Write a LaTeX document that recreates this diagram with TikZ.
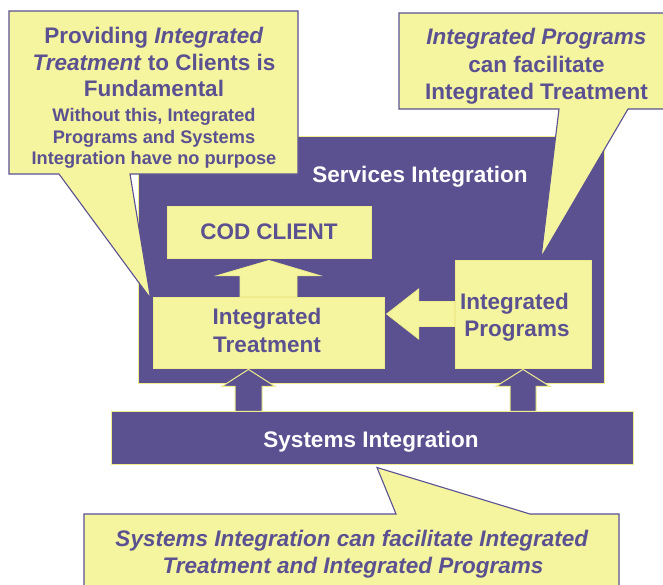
\documentclass[tikz,border=0pt]{standalone}
\usepackage{fontspec}
\setmainfont{Liberation Sans}
\usetikzlibrary{calc}
\definecolor{pur}{RGB}{91,81,145}
\definecolor{yel}{RGB}{245,245,160}
\definecolor{yeledge}{RGB}{238,236,140}
\tikzset{
  big/.style={font=\bfseries\fontsize{22.5}{27}\selectfont, text=pur, anchor=base, inner sep=0pt},
  small/.style={font=\bfseries\fontsize{18.2}{21.5}\selectfont, text=pur, anchor=base, inner sep=0pt},
  wbig/.style={big, text=white},
  ybox/.style={draw=yeledge, fill=yel, line width=0.8pt, inner sep=0pt},
  pbox/.style={draw=yeledge, fill=pur, line width=1pt, inner sep=0pt},
  yarrow/.style={draw=yeledge, fill=yel, line width=0.8pt, line join=miter},
  parrow/.style={draw=yeledge, fill=pur, line width=1pt, line join=miter},
  callout/.style={draw=pur, fill=yel, line width=1.1pt, line join=miter},
}
\begin{document}
\begin{tikzpicture}[x=1pt,y=-1pt]
\useasboundingbox (0,0) rectangle (663,584);
\clip (0,0) rectangle (663,584);
\fill[white] (0,0) rectangle (663,584);

% Services Integration frame
\node[pbox, minimum width=466pt, minimum height=247pt] (services) at (371,259.5) {};
\node[wbig] (servicesT) at (420,182) {Services Integration};

% inner boxes
\node[ybox, minimum width=204pt, minimum height=52pt] (cod) at (269,232) {};
\node[big, anchor=center] (codT) at (269,232) {COD CLIENT};
\node[ybox, minimum width=231pt, minimum height=71pt] (treat) at (268.5,332.5) {};
\node[big] (treatT1) at (267,324) {Integrated};
\node[big] (treatT2) at (267,352) {Treatment};
\node[ybox, minimum width=136pt, minimum height=108pt] (prog) at (523,314) {};
\node[big] (progT1) at (514.5,309) {Integrated};
\node[big] (progT2) at (517,336) {Programs};

% block arrows inside
\draw[yarrow] ($(treat.north)+(-28.5,0)$) -- ++(0,-21) -- ++(-23,0)
  -- ($(cod.south)+(0,2)$) -- ($(treat.north)+(51.5,-21)$) -- ++(-23,0) -- ++(0,21) -- cycle;
\draw[yarrow] ($(prog.west)+(0,-12.5)$) -- ++(-36,0) -- ++(0,-12.5)
  -- ($(prog.west)+(-68,0)$) -- ($(prog.west)+(-36,25)$) -- ++(0,-12.5) -- ++(36,0) -- cycle;

% Systems Integration bar
\node[pbox, minimum width=522pt, minimum height=53pt] (sys) at (372,437.5) {};
\node[wbig] (sysT) at (371,447) {Systems Integration};

% up arrows from systems bar
\draw[parrow] ($(treat.south)+(-33.5,43)$) -- ++(0,-25) -- ++(-13,0)
  -- ($(treat.south)+(-20,1)$) -- ($(treat.south)+(6.5,18)$) -- ++(-13,0) -- ++(0,25) -- cycle;
\draw[parrow] ($(prog.south)+(-13,43)$) -- ++(0,-25) -- ++(-14,0)
  -- ($(prog.south)+(0,1)$) -- ($(prog.south)+(27,18)$) -- ++(-14,0) -- ++(0,25) -- cycle;

% callout top-left
\draw[callout] (9,11) -- (298,11) -- (298,174) -- (130,174) -- ($(treat.north west)+(-2,2)$)
  -- (59,174) -- (9,174) -- cycle;
\node[big] (tl1) at (154,43) {Providing \textit{Integrated}};
\node[big] (tl2) at (154,70) {\textit{Treatment} to Clients is};
\node[big] (tl3) at (154,96) {Fundamental};
\node[small] (tl4) at (154,121.5) {Without this, Integrated};
\node[small] (tl5) at (154,143) {Programs and Systems};
\node[small] (tl6) at (154,164) {Integration have no purpose};

% callout top-right
\draw[callout] (399,13) -- (667,13) -- (667,109) -- (628,109) -- ($(prog.north)+(18,-2)$)
  -- (559,109) -- (399,109) -- cycle;
\node[big] (tr1) at (536.5,44) {\textit{Integrated Programs}};
\node[big] (tr2) at (536.5,72) {can facilitate};
\node[big] (tr3) at (536.5,99) {Integrated Treatment};

% callout bottom
\draw[callout] (84,514) -- (396,514) -- ($(sys.south)+(5,3)$) -- (530,514) -- (619,514)
  -- (619,590) -- (84,590) -- cycle;
\node[big] (b1) at (352,546) {\textit{Systems Integration can facilitate Integrated}};
\node[big] (b2) at (353,573) {\textit{Treatment and Integrated Programs}};
\end{tikzpicture}
\end{document}
